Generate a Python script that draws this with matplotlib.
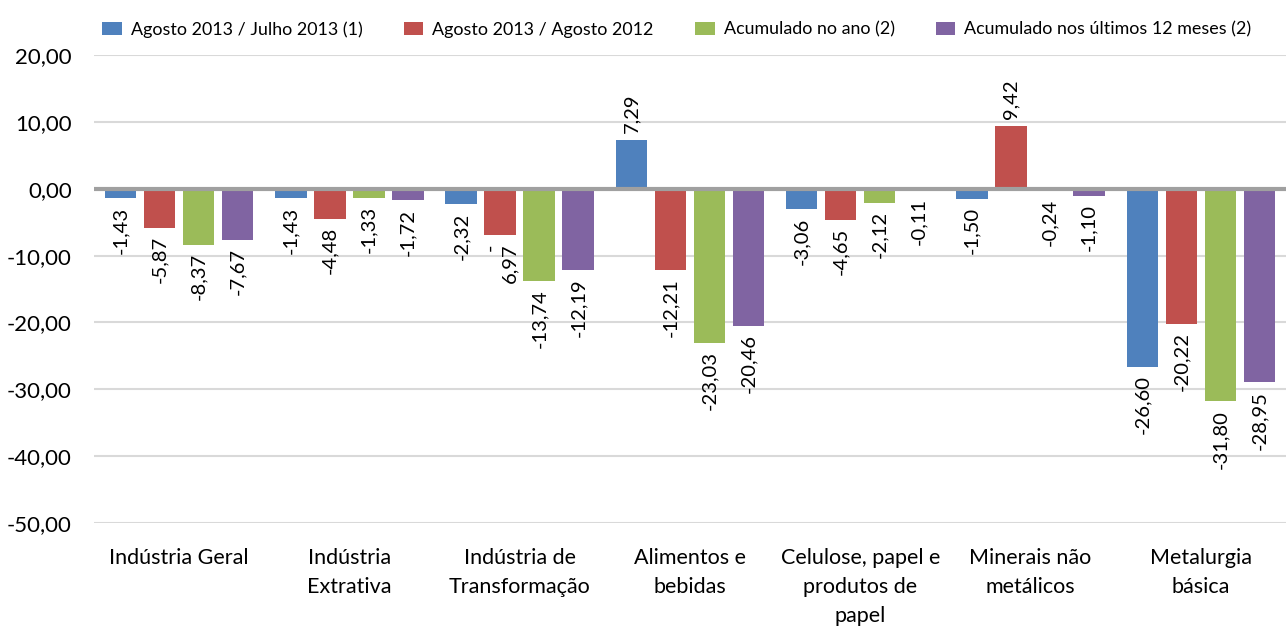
import numpy as np
import matplotlib.pyplot as plt

plt.rcParams['font.family'] = ['Lato', 'DejaVu Sans']

categories = ["Indústria Geral", "Indústria\nExtrativa", "Indústria de\nTransformação",
              "Alimentos e\nbebidas", "Celulose, papel e\nprodutos de\npapel",
              "Minerais não\nmetálicos", "Metalurgia\nbásica"]
series_names = ["Agosto 2013 / Julho 2013 (1)", "Agosto 2013 / Agosto 2012",
                "Acumulado no ano (2)", "Acumulado nos últimos 12 meses (2)"]
mes_anterior = [-1.43, -1.43, -2.32, 7.29, -3.06, -1.50, -26.60]
mes_ano_anterior = [-5.87, -4.48, -6.97, -12.21, -4.65, 9.42, -20.22]
acum_ano = [-8.37, -1.33, -13.74, -23.03, -2.12, -0.24, -31.80]
acum_12m = [-7.67, -1.72, -12.19, -20.46, -0.11, -1.10, -28.95]
yticks = [20, 10, 0, -10, -20, -30, -40, -50]

colors = ["#4F81BD", "#C0504D", "#9BBB59", "#8064A2"]
series = [mes_anterior, mes_ano_anterior, acum_ano, acum_12m]


def fmt(v):
    return f"{v:.2f}".replace(".", ",")


fig = plt.figure(figsize=(12.86, 6.26), dpi=100)
ax = fig.add_axes([0.073, 0.1645, 0.927, 0.7475])

x = np.arange(len(categories))
width = 0.185
step = 0.229
for i, (vals, col, name) in enumerate(zip(series, colors, series_names)):
    pos = x + (i - 1.5) * step
    ax.bar(pos, vals, width, color=col, label=name, zorder=3)
    for p, v in zip(pos, vals):
        txt = fmt(v)
        # the original label wraps its minus sign onto a separate line
        if abs(v - (-6.97)) < 1e-9:
            txt = "-\n6,97"
        if v >= 0:
            ax.annotate(txt, (p, v), xytext=(0, 5), textcoords="offset points",
                        rotation=90, ha="center", va="bottom", fontsize=14.5,
                        multialignment="right")
        else:
            ax.annotate(txt, (p, v), xytext=(0, -6), textcoords="offset points",
                        rotation=90, ha="center", va="top", fontsize=14.5,
                        multialignment="right")

ax.set_xlim(-0.5, len(categories) - 0.5)
ax.set_ylim(-50, 20)
ax.set_yticks(yticks)
ax.set_yticklabels([fmt(t) for t in yticks], fontsize=16)
ax.set_xticks(x)
ax.set_xticklabels(categories, fontsize=15.5, linespacing=1.55, va="top")
ax.tick_params(axis="y", length=0, pad=16)
ax.tick_params(axis="x", length=0, pad=18)
ax.grid(axis="y", color="#d9d9d9", linewidth=1.5, zorder=0)
ax.axhline(0, color="#a0a0a0", linewidth=3, zorder=4)
for s in ax.spines.values():
    s.set_visible(False)

fig.legend(loc="upper left", bbox_to_anchor=(102 / 1286, 1 - 21 / 626), ncol=4,
           frameon=False, fontsize=12.9, handlelength=1.1, handleheight=0.78,
           handletextpad=0.5, columnspacing=2.3, borderaxespad=0, borderpad=0)

fig.savefig("out.png", dpi=100)
